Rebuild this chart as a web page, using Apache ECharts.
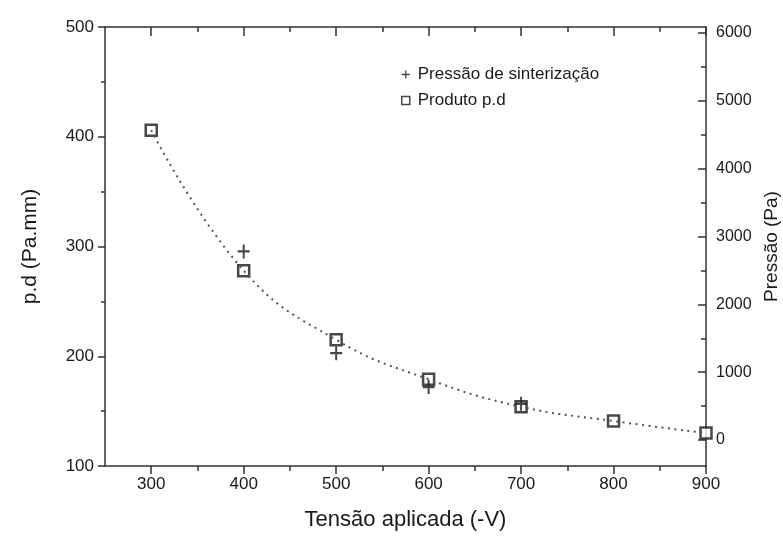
<!DOCTYPE html>
<html>
<head>
<meta charset="utf-8">
<script src="https://cdn.jsdelivr.net/npm/echarts@6/dist/echarts.min.js"></script>
<style>
  html, body { margin: 0; padding: 0; background: #fff; }
  #chart { width: 783px; height: 538px; }
</style>
</head>
<body>
<div id="chart"></div>
<script>
// values
let tensao = [300, 400, 500, 600, 700, 800, 900];
let produtoPd = [406, 278, 215, 179, 154, 141, 130];      // Pa.mm, left axis
let tensaoPressao = [400, 500, 600, 700];
let pressao = [2780, 1280, 780, 535];                      // Pa, right axis
let xMajor = [300, 400, 500, 600, 700, 800, 900];
let xMinor = [350, 450, 550, 650, 750, 850];
let pMajor = [0, 1000, 2000, 3000, 4000, 5000, 6000];
let pMinor = [500, 1500, 2500, 3500, 4500, 5500];

let plusPath = 'path://M5,0H7V5H12V7H7V12H5V7H0V5H5Z';
let font = 'Liberation Sans, Arial, sans-serif';
let ink = '#1a1a1a';
let axisCol = '#333';

let chart = echarts.init(document.getElementById('chart'));

let xBase = {
    type: 'value', min: 250, max: 900, gridIndex: 0,
    splitLine: {show: false}, axisLabel: {show: false},
    axisLine: {show: false, onZero: false}
};

let option = {
    animation: false,
    backgroundColor: '#fff',
    textStyle: {fontFamily: font, color: ink},
    grid: {left: 105, right: 77, top: 27, bottom: 72, outerBoundsMode: 'none'},
    legend: {
        orient: 'vertical', left: 396, top: 61, itemGap: 9,
        itemWidth: 8, itemHeight: 8,
        textStyle: {fontSize: 17, color: ink, fontFamily: font, padding: [0, 0, 0, 3]},
        data: [
            {name: 'Pressão de sinterização', icon: plusPath,
             itemStyle: {color: ink, borderWidth: 0}},
            {name: 'Produto p.d', icon: 'rect',
             itemStyle: {color: '#fff', borderColor: ink, borderWidth: 1.5}}
        ]
    },
    xAxis: [
        {   // bottom, labels and major ticks
            type: 'value', min: 250, max: 900,
            name: 'Tensão aplicada (-V)', nameLocation: 'middle', nameGap: 43,
            nameTextStyle: {fontSize: 22, color: ink},
            axisLine: {onZero: false, lineStyle: {color: axisCol, width: 1.5}},
            axisTick: {customValues: xMajor, inside: false, length: 8, lineStyle: {color: axisCol, width: 1.5}},
            axisLabel: {customValues: xMajor, fontSize: 17, color: ink, margin: 10},
            splitLine: {show: false}
        },
        Object.assign({}, xBase, {   // bottom minor ticks
            position: 'bottom',
            axisTick: {customValues: xMinor, length: 5, lineStyle: {color: axisCol, width: 1.5}}
        }),
        Object.assign({}, xBase, {   // top frame with inward ticks
            position: 'top',
            axisLine: {show: true, onZero: false, lineStyle: {color: axisCol, width: 1.5}},
            axisTick: {customValues: xMajor, inside: true, length: 9, lineStyle: {color: axisCol, width: 1.5}}
        }),
        Object.assign({}, xBase, {
            position: 'top',
            axisTick: {customValues: xMinor, inside: true, length: 5, lineStyle: {color: axisCol, width: 1.5}}
        })
    ],
    yAxis: [
        {
            type: 'value', min: 100, max: 500, interval: 100, position: 'left',
            name: 'p.d (Pa.mm)', nameLocation: 'middle', nameGap: 64, nameRotate: 90,
            nameTextStyle: {fontSize: 21, color: ink},
            axisLine: {show: true, onZero: false, lineStyle: {color: axisCol, width: 1.5}},
            axisTick: {inside: false, length: 7, lineStyle: {color: axisCol, width: 1.5}},
            minorTick: {show: true, splitNumber: 2, length: 4, lineStyle: {color: axisCol, width: 1.5}},
            axisLabel: {fontSize: 17, color: ink, margin: 11},
            splitLine: {show: false}
        },
        {
            type: 'value', min: -383, max: 6088, position: 'right',
            name: 'Pressão (Pa)', nameLocation: 'middle', nameGap: 53, nameRotate: 90,
            nameTextStyle: {fontSize: 19, color: ink},
            axisLine: {show: true, onZero: false, lineStyle: {color: axisCol, width: 1.5}},
            axisTick: {customValues: pMajor, inside: true, length: 8, lineStyle: {color: axisCol, width: 1.5}},
            axisLabel: {customValues: pMajor, fontSize: 16, color: ink, margin: 10,
                        formatter: (v) => String(v)},
            splitLine: {show: false}
        },
        {
            type: 'value', min: -383, max: 6088, position: 'right',
            axisLine: {show: false, onZero: false}, axisLabel: {show: false}, splitLine: {show: false},
            axisTick: {customValues: pMinor, inside: true, length: 5, lineStyle: {color: axisCol, width: 1.5}}
        }
    ],
    series: [
        {
            name: 'ajuste', type: 'line', xAxisIndex: 0, yAxisIndex: 0,
            data: tensao.map((x, i) => [x, produtoPd[i]]),
            smooth: 0.45, showSymbol: false, silent: true,
            lineStyle: {color: '#555', width: 2, type: [2, 4.5]}
        },
        {
            name: 'Produto p.d', type: 'scatter', xAxisIndex: 0, yAxisIndex: 0,
            data: tensao.map((x, i) => [x, produtoPd[i]]),
            symbol: 'rect', symbolSize: 11,
            itemStyle: {color: '#fff', borderColor: ink, borderWidth: 2.5}
        },
        {
            name: 'Pressão de sinterização', type: 'scatter', xAxisIndex: 0, yAxisIndex: 1,
            data: tensaoPressao.map((x, i) => [x, pressao[i]]),
            symbol: plusPath, symbolSize: [12, 14],
            itemStyle: {color: ink}
        }
    ]
};

chart.setOption(option);
</script>
</body>
</html>
